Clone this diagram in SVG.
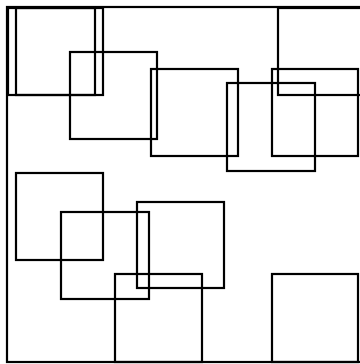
<svg xmlns="http://www.w3.org/2000/svg" width="360" height="364" viewBox="0 0 360 364">
<style>
rect.b{fill:none;stroke:#000;stroke-width:2.2}
</style>
<rect width="360" height="364" fill="#fff"/>
<g id="frame"><rect class="b" x="7" y="7" width="362" height="355"/></g>
<g id="r1"><rect class="b" x="8" y="8" width="87" height="87"/></g>
<g id="r2"><rect class="b" x="16" y="8" width="87" height="87"/></g>
<g id="r3"><rect class="b" x="278" y="8" width="87" height="87"/></g>
<g id="r4"><rect class="b" x="70" y="52" width="87" height="87"/></g>
<g id="r5"><rect class="b" x="151" y="69" width="87" height="87"/></g>
<g id="r6"><rect class="b" x="227" y="83" width="88" height="88"/></g>
<g id="r7"><rect class="b" x="272" y="69" width="86" height="87"/></g>
<g id="r8"><rect class="b" x="16" y="173" width="87" height="87"/></g>
<g id="r9"><rect class="b" x="61" y="212" width="88" height="87"/></g>
<g id="r10"><rect class="b" x="137" y="202" width="87" height="86"/></g>
<g id="r11"><rect class="b" x="115" y="274" width="87" height="88"/></g>
<g id="r12"><rect class="b" x="272" y="274" width="86" height="88"/></g>
</svg>
